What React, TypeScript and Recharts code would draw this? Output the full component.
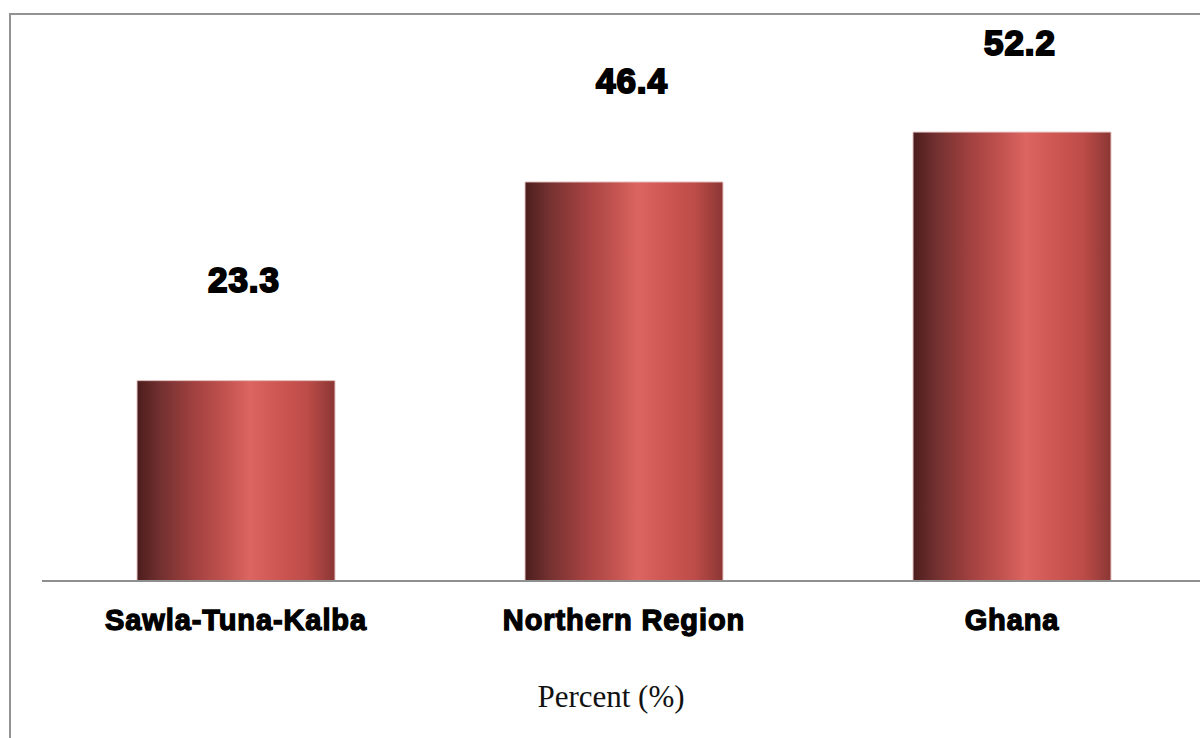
import { Bar, BarChart, LabelList, XAxis, YAxis } from "recharts";

const categories = ["Sawla-Tuna-Kalba", "Northern Region", "Ghana"];
const percentValues = [23.3, 46.4, 52.2];
const axisMax = 60;

const chartData = categories.map((name, i) => ({ name, percent: percentValues[i] }));

function ValueLabel(props: any) {
  const { x, y, width, value } = props;
  // labels sit well above the bars, kept inside the frame for the tallest one
  const labelY = Math.max(y - 101, 42);
  return (
    <text
      x={x + width / 2 + 8}
      y={labelY}
      textAnchor="middle"
      dominantBaseline="central"
      fontFamily="'Liberation Sans', Arial, sans-serif"
      fontWeight={700}
      fontSize={35}
      letterSpacing={1}
      fill="#000"
      stroke="#000"
      strokeWidth={2}
    >
      {value}
    </text>
  );
}

function CategoryTick(props: any) {
  const { x, y, payload } = props;
  return (
    <text
      x={x}
      y={y + 41}
      textAnchor="middle"
      fontFamily="'Liberation Sans', Arial, sans-serif"
      fontWeight={700}
      fontSize={29}
      letterSpacing={0.9}
      fill="#000"
      stroke="#000"
      strokeWidth={1.3}
    >
      {payload.value}
    </text>
  );
}

export default function App() {
  return (
    <div
      style={{
        position: "fixed",
        left: 0,
        top: 0,
        width: 1200,
        height: 738,
        overflow: "hidden",
        background: "#fff",
      }}
    >
      <div
        style={{
          position: "absolute",
          left: 9,
          top: 13,
          width: 1300,
          height: 800,
          border: "2px solid #929292",
        }}
      />
      <div style={{ position: "absolute", left: 0, top: 0 }}>
        <BarChart
          width={1260}
          height={720}
          data={chartData}
          margin={{ top: 65, right: 54, bottom: 99, left: 42 }}
        >
          <defs>
            <linearGradient id="barShade" x1="0" x2="1" y1="0" y2="0">
              <stop offset="0%" stopColor="#4c1d1d" />
              <stop offset="12%" stopColor="#733130" />
              <stop offset="30%" stopColor="#a44241" />
              <stop offset="45%" stopColor="#c2534f" />
              <stop offset="57%" stopColor="#dc6561" />
              <stop offset="72%" stopColor="#cd5652" />
              <stop offset="86%" stopColor="#bd4c48" />
              <stop offset="100%" stopColor="#8a3634" />
            </linearGradient>
          </defs>
          <XAxis
            dataKey="name"
            height={40}
            axisLine={{ stroke: "#8f8f8f", strokeWidth: 2 }}
            tickLine={false}
            tick={<CategoryTick />}
            interval={0}
          />
          <YAxis hide domain={[0, axisMax]} />
          <Bar
            dataKey="percent"
            barSize={198}
            fill="url(#barShade)"
            stroke="#e6c4c4"
            strokeWidth={1}
            isAnimationActive={false}
          >
            <LabelList dataKey="percent" content={<ValueLabel />} />
          </Bar>
        </BarChart>
      </div>
      <div
        style={{
          position: "absolute",
          left: 0,
          width: 1222,
          top: 679,
          textAlign: "center",
          fontFamily: "'Liberation Serif', 'DejaVu Serif', serif",
          fontSize: 31,
          color: "#111",
        }}
      >
        Percent (%)
      </div>
    </div>
  );
}
